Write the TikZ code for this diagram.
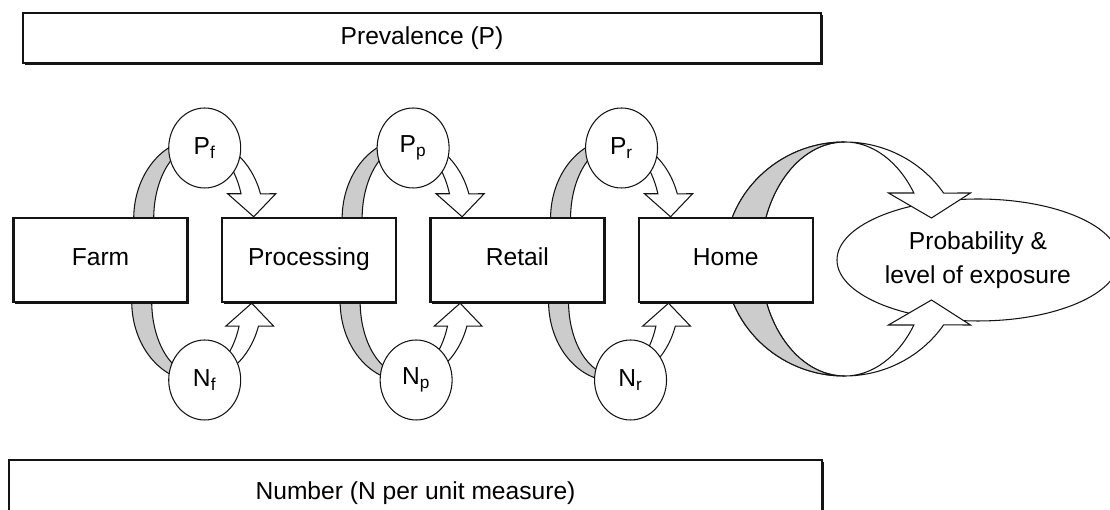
\documentclass[tikz,border=0pt]{standalone}
\usepackage{fontspec}
\setmainfont{Liberation Sans}
\usepackage{xcolor}
\usepackage{tikz}
\usetikzlibrary{positioning,calc,shadows,shapes.geometric,backgrounds}
\definecolor{bandgray}{RGB}{204,204,204}
\definecolor{inkblack}{RGB}{20,20,20}

\begin{document}
\begin{tikzpicture}[
        x=0.02cm, y=0.02cm,
        node distance=0.64cm,
        font=\fontsize{14}{19}\selectfont,
        stage/.style={rectangle, draw=inkblack, line width=1.4pt, fill=white,
                      drop shadow={shadow xshift=0.9pt, shadow yshift=-0.9pt, fill=inkblack, opacity=1},
                      minimum width=3.48cm, minimum height=1.68cm, inner sep=0pt,
                      text height=1.6ex, text depth=0.5ex},
        banner/.style={rectangle, draw=inkblack, line width=1.4pt, fill=white,
                       drop shadow={shadow xshift=0.9pt, shadow yshift=-0.9pt, fill=inkblack, opacity=1},
                       inner sep=0pt},
        var/.style={ellipse, draw=inkblack, line width=0.6pt, fill=white,
                    minimum width=1.44cm, minimum height=1.6cm, inner sep=0pt},
        outcome/.style={ellipse, draw=inkblack, line width=0.6pt, fill=white, align=center,
                        minimum width=5.64cm, minimum height=2.44cm, inner sep=0pt},
        band/.style={draw=inkblack, line width=0.6pt, fill=bandgray},
        flow/.style={draw=inkblack, line width=0.6pt, fill=white, line join=miter},
        ploop/.pic={
            \path[band] (0,80) arc[start angle=90, end angle=180, x radius=65, y radius=80]
                -- (-45,0) arc[start angle=180, end angle=90, x radius=45, y radius=74] -- cycle;
            \path[flow] (0,80) arc[start angle=90, end angle=18.2, x radius=65, y radius=80]
                -- (77,25) -- (55,2) -- (29,25) -- (42.35,25)
                arc[start angle=19.75, end angle=90, x radius=45, y radius=74] -- cycle;
        },
        ring/.pic={
            \path[band] (0,117) arc[start angle=90, end angle=270, x radius=120, y radius=117]
                arc[start angle=270, end angle=90, x radius=84, y radius=117] -- cycle;
            \path[flow] (0,117) arc[start angle=90, end angle=34.3, x radius=120, y radius=117]
                -- (126,66) -- (87,41) -- (44,66) -- (69.4,66)
                arc[start angle=34.3, end angle=90, x radius=84, y radius=117] -- cycle;
        }
    ]
        \useasboundingbox (0,0) rectangle (1110,510);

        % 上下两条
        \node[banner, minimum width=15.96cm, minimum height=1cm] (prev) at (422,472) {Prevalence (P)};
        \node[banner, minimum width=16.26cm, minimum height=1.32cm] (numb) at (415.5,17) {Number (N per unit measure)};

        % 主流程
        \node[stage] (farm) at (100.5,250) {Farm};
        \node[stage, right=of farm] (proc) {Processing};
        \node[stage, right=of proc] (retail) {Retail};
        \node[stage, right=of retail] (home) {Home};

        % P 和 N
        \node[var] (pf) at ($(farm.east)!0.5!(proc.west)+(0,112)$) {P\textsubscript{f}};
        \node[var] (pp) at ($(proc.east)!0.5!(retail.west)+(0,112)$) {P\textsubscript{p}};
        \node[var] (pr) at ($(retail.east)!0.5!(home.west)+(0,112)$) {P\textsubscript{r}};
        \node[var] (nf) at ($(farm.east)!0.5!(proc.west)+(0,-120)$) {N\textsubscript{f}};
        \node[var] (np) at ($(proc.east)!0.5!(retail.west)+(3,-120)$) {N\textsubscript{p}};
        \node[var] (nr) at ($(retail.east)!0.5!(home.west)+(9,-120)$) {N\textsubscript{r}};

        % 环形箭头
        \begin{scope}[on background layer]
            \node[outcome, right=0.45cm of home] (expo) {Probability \&\\level of exposure};
            \pic at ($(farm.north east)!0.5!(proc.north west)+(-6,-2)$) {ploop};
            \pic at ($(proc.north east)!0.5!(retail.north west)+(-6,-2)$) {ploop};
            \pic at ($(retail.north east)!0.5!(home.north west)+(-6,-2)$) {ploop};
            \pic[yscale=-1] at ($(farm.south east)!0.5!(proc.south west)+(-8,2)$) {ploop};
            \pic[yscale=-1] at ($(proc.south east)!0.5!(retail.south west)+(-8,2)$) {ploop};
            \pic[yscale=-1] at ($(retail.south east)!0.5!(home.south west)+(-8,2)$) {ploop};
            \pic at ($(home.east)+(30.5,1)$) {ring};
            \pic[yscale=-1] at ($(home.east)+(30.5,1)$) {ring};
        \end{scope}
    \end{tikzpicture}
\end{document}
